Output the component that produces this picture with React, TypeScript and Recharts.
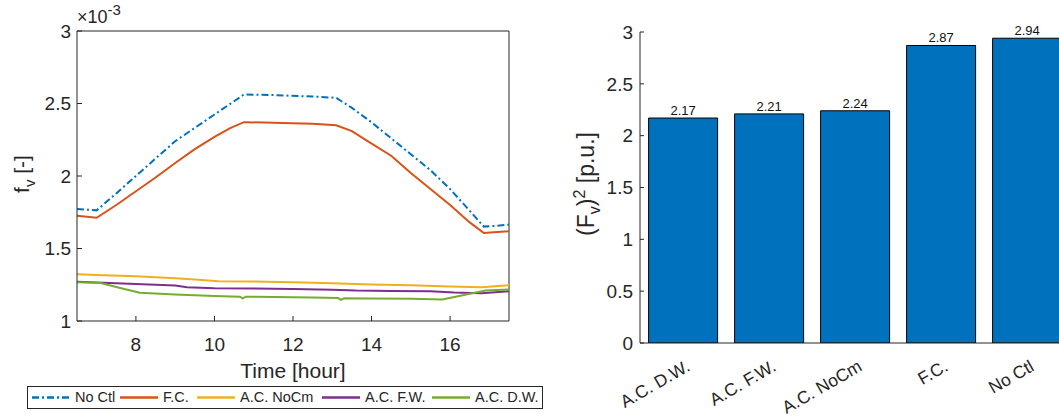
import React from 'react';
import { LineChart, Line, XAxis, YAxis, CartesianGrid, BarChart, Bar, LabelList } from 'recharts';

const FONT = '"Liberation Sans", Arial, Helvetica, sans-serif';
const INK = '#262626';

// ---- Frequency deviation f_v (x1e-3) over the day -------------------------
const noCtlHours = [6.5, 7.0, 7.5, 8, 8.5, 9, 9.5, 10, 10.4, 10.75, 11.5, 12.5, 13.1, 13.5, 14, 14.5, 15, 15.5, 16, 16.5, 16.86, 17.2, 17.5];
const noCtlFv = [1.772, 1.763, 1.88, 2.0, 2.12, 2.24, 2.332, 2.424, 2.497, 2.562, 2.558, 2.548, 2.539, 2.47, 2.37, 2.26, 2.15, 2.04, 1.91, 1.76, 1.651, 1.657, 1.664];

const fcHours = [6.5, 7.0, 7.5, 8, 8.5, 9, 9.5, 10, 10.4, 10.75, 11.5, 12.5, 13.1, 13.5, 13.9, 14.5, 15, 15.5, 16, 16.5, 16.86, 17.2, 17.5];
const fcFv = [1.726, 1.712, 1.8, 1.895, 1.99, 2.09, 2.185, 2.27, 2.33, 2.371, 2.368, 2.36, 2.35, 2.31, 2.24, 2.14, 2.02, 1.91, 1.8, 1.68, 1.607, 1.613, 1.619];

const noCmHours = [6.5, 7, 8, 9, 9.6, 10.1, 11, 12, 13, 14, 15, 16, 16.8, 17.5];
const noCmFv = [1.322, 1.317, 1.308, 1.294, 1.284, 1.274, 1.272, 1.267, 1.261, 1.252, 1.246, 1.238, 1.232, 1.247];

const fwHours = [6.5, 7, 8, 9, 9.3, 10, 11, 12, 13, 13.6, 14.5, 15.5, 16.1, 16.8, 17.5];
const fwFv = [1.27, 1.266, 1.256, 1.245, 1.233, 1.226, 1.224, 1.221, 1.216, 1.21, 1.207, 1.205, 1.196, 1.192, 1.205];

const dwHours = [6.5, 7.1, 7.6, 8.1, 9, 10, 10.65, 10.72, 10.8, 11.5, 12.5, 13.15, 13.22, 13.3, 14, 15, 15.8, 16.2, 16.9, 17.5];
const dwFv = [1.268, 1.262, 1.228, 1.195, 1.183, 1.173, 1.168, 1.156, 1.168, 1.166, 1.162, 1.158, 1.146, 1.157, 1.155, 1.153, 1.148, 1.17, 1.21, 1.218];

const hourDomain = [6.5, 17.5];
const fvDomain = [1, 3];
const hourTicks = [8, 10, 12, 14, 16];
const fvTicks = [1, 1.5, 2, 2.5, 3];

// ---- Accumulated squared deviation per strategy ---------------------------
const strategies = ['A.C. D.W.', 'A.C. F.W.', 'A.C. NoCm', 'F.C.', 'No Ctl'];
const squaredFv = [2.17, 2.21, 2.24, 2.87, 2.94];
const puTicks = [0, 0.5, 1, 1.5, 2, 2.5, 3];

type Series = { name: string; color: string; dash?: string; hours: number[]; values: number[] };

const series: Series[] = [
  { name: 'No Ctl', color: '#0072BD', dash: '7 3 2 3', hours: noCtlHours, values: noCtlFv },
  { name: 'F.C.', color: '#D95319', hours: fcHours, values: fcFv },
  { name: 'A.C. NoCm', color: '#EDB120', hours: noCmHours, values: noCmFv },
  { name: 'A.C. F.W.', color: '#7E2F8E', hours: fwHours, values: fwFv },
  { name: 'A.C. D.W.', color: '#77AC30', hours: dwHours, values: dwFv },
];

const toPoints = (s: Series) => s.hours.map((t, i) => ({ t, v: s.values[i] }));

// legend token start positions (px) inside the page
const legendTokenX = [32, 120, 197, 322, 432];

const barData = strategies.map((s, i) => ({ name: s, value: squaredFv[i] }));

const tickFont = { fontFamily: FONT, fontSize: 19, fill: INK };
const TICK_LEN = 5;

// box edges: a single grid line on the top and on the right of the plot area
const topEdge = (p: any) => [p.offset.top];
const rightEdge = (p: any) => [p.offset.left + p.offset.width];

const BarCategoryTick = (props: any) => {
  const { x, y, payload } = props;
  return (
    <text
      transform={`translate(${x + 2},${y + 8}) rotate(-30)`}
      textAnchor="end"
      dy="0.71em"
      style={{ fontFamily: FONT, fontSize: 17.5, fill: INK }}
    >
      {payload.value}
    </text>
  );
};

export default function App() {
  return (
    <div
      style={{
        position: 'absolute',
        left: 0,
        top: 0,
        width: 1059,
        height: 416,
        overflow: 'hidden',
        background: '#fff',
        fontFamily: FONT,
      }}
    >
      {/* Left panel: f_v time traces */}
      <div style={{ position: 'absolute', left: 0, top: 0 }}>
        <LineChart width={560} height={386} margin={{ top: 31, right: 51, bottom: 0, left: 0 }}>
          <CartesianGrid
            stroke={INK}
            strokeWidth={1}
            horizontalCoordinatesGenerator={topEdge}
            verticalCoordinatesGenerator={rightEdge}
          />
          <XAxis
            type="number"
            dataKey="t"
            domain={hourDomain}
            ticks={hourTicks}
            allowDataOverflow
            height={65}
            stroke={INK}
            tickSize={-TICK_LEN}
            tickMargin={22}
            tick={tickFont}
            label={{
              content: () => (
                <text x={293} y={378} textAnchor="middle" style={{ fontFamily: FONT, fontSize: 21, fill: INK }}>
                  Time [hour]
                </text>
              ),
            }}
          />
          <YAxis
            type="number"
            domain={fvDomain}
            ticks={fvTicks}
            allowDataOverflow
            width={77}
            stroke={INK}
            tickSize={-TICK_LEN}
            tickMargin={11}
            tick={tickFont}
            label={{
              content: () => (
                <g>
                  <text
                    transform="translate(29,174) rotate(-90)"
                    textAnchor="middle"
                    style={{ fontFamily: FONT, fontSize: 21, fill: INK }}
                  >
                    f<tspan dy={6} fontSize={15}>v</tspan>
                    <tspan dy={-6}>  [-]</tspan>
                  </text>
                  <text x={77} y={23} style={{ fontFamily: FONT, fontSize: 18, fill: INK }}>
                    ×10<tspan dy={-8} fontSize={15}>-3</tspan>
                  </text>
                </g>
              ),
            }}
          />
          {series.map((s) => (
            <Line
              key={s.name}
              data={toPoints(s)}
              dataKey="v"
              name={s.name}
              type="linear"
              stroke={s.color}
              strokeWidth={2}
              strokeDasharray={s.dash}
              dot={false}
              activeDot={false}
              isAnimationActive={false}
            />
          ))}
        </LineChart>
      </div>

      {/* Legend for the traces */}
      <div
        style={{
          position: 'absolute',
          left: 27,
          top: 386,
          width: 514,
          height: 21,
          border: `1px solid ${INK}`,
          background: '#fff',
        }}
      >
        {series.map((s, i) => (
          <div
            key={s.name}
            style={{ position: 'absolute', left: legendTokenX[i] - 28, top: 0, height: 21, display: 'flex', alignItems: 'center' }}
          >
            <svg width={38} height={21} style={{ display: 'block' }}>
              <line x1={0} y1={10.5} x2={38} y2={10.5} stroke={s.color} strokeWidth={2.5} strokeDasharray={s.dash} />
            </svg>
            <span style={{ marginLeft: 5, fontSize: 14.5, color: INK, whiteSpace: 'nowrap', lineHeight: '21px' }}>{s.name}</span>
          </div>
        ))}
      </div>

      {/* Right panel: squared deviation per strategy */}
      <div style={{ position: 'absolute', left: 560, top: 0 }}>
        <BarChart
          width={520}
          height={416}
          data={barData}
          margin={{ top: 32, right: 10, bottom: 0, left: 0 }}
          barCategoryGap="10%"
        >
          <XAxis
            dataKey="name"
            height={73}
            stroke={INK}
            tickLine={false}
            interval={0}
            tick={<BarCategoryTick />}
          />
          <YAxis
            type="number"
            domain={[0, 3]}
            ticks={puTicks}
            allowDataOverflow
            width={80}
            stroke={INK}
            tickSize={-4}
            tickMargin={11}
            tick={tickFont}
            label={{
              content: () => (
                <text
                  transform="translate(34,184) rotate(-90)"
                  textAnchor="middle"
                  style={{ fontFamily: FONT, fontSize: 23, fill: INK }}
                >
                  (F<tspan dy={6} fontSize={16}>v</tspan>
                  <tspan dy={-6}>)</tspan>
                  <tspan dy={-9} fontSize={16}>2</tspan>
                  <tspan dy={9}> [p.u.]</tspan>
                </text>
              ),
            }}
          />
          <Bar dataKey="value" fill="#0072BD" stroke="#000" strokeWidth={1} isAnimationActive={false}>
            <LabelList
              dataKey="value"
              position="top"
              offset={3}
              formatter={(v: any) => Number(v).toFixed(2)}
              style={{ fontFamily: FONT, fontSize: 13, fill: '#111' }}
            />
          </Bar>
        </BarChart>
      </div>
    </div>
  );
}
